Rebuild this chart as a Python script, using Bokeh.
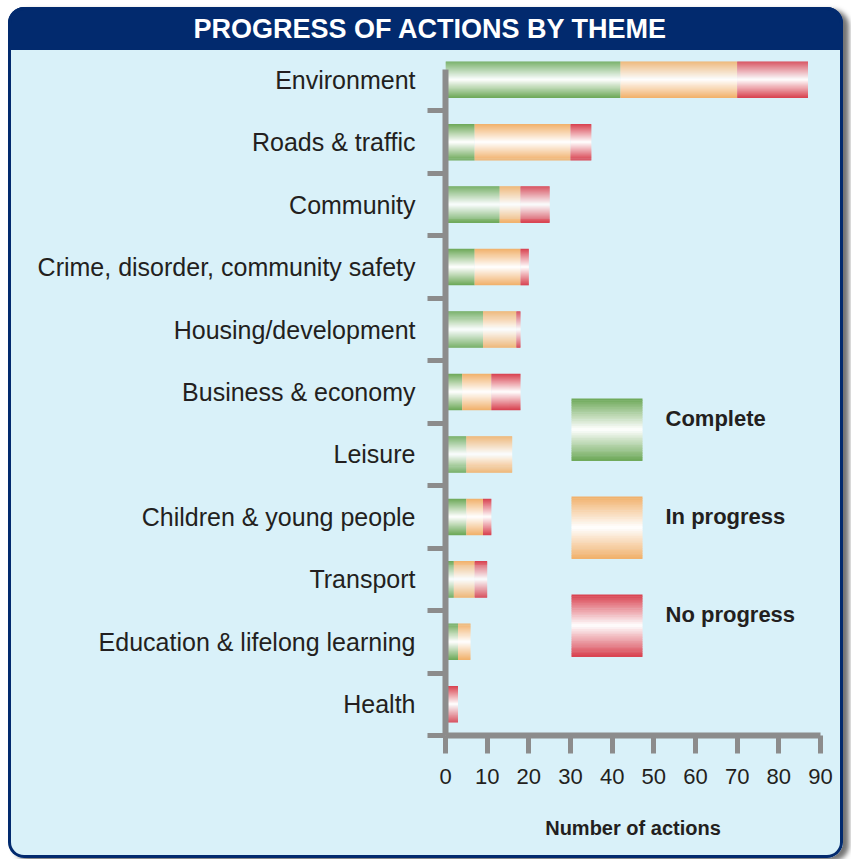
from bokeh.plotting import figure
from bokeh.models import ColumnDataSource, FixedTicker, BoxAnnotation, Label, Range1d
from bokeh.embed import file_html
from bokeh.resources import INLINE

# ---------------- data ----------------
themes = ["Environment", "Roads & traffic", "Community",
          "Crime, disorder, community safety", "Housing/development",
          "Business & economy", "Leisure", "Children & young people",
          "Transport", "Education & lifelong learning", "Health"]
complete    = [42, 7, 13, 7, 9, 4, 5, 5, 2, 3, 0]
in_progress = [28, 23, 5, 11, 8, 7, 11, 4, 5, 3, 0]
no_progress = [17, 5, 7, 2, 1, 7, 0, 2, 3, 0, 3]
series = ["Complete", "In progress", "No progress"]
x_ticks = [0, 10, 20, 30, 40, 50, 60, 70, 80, 90]
title_text = "PROGRESS OF ACTIONS BY THEME"
x_label = "Number of actions"

# ---------------- style ----------------
edge_colors = ["#6ca857", "#f1b06a", "#d8404e"]
NAVY = "#022a6e"
BG = "#d9f1f9"
GRAY = "#8c8c8c"
TXT = "#231f20"
FONT = "Liberation Sans"
W, H = 835, 851          # canvas placed at page (8, 7)
OX, OY = 8, 7
N = 36
BAR_H = 0.58


def hex2rgb(h):
    h = h.lstrip("#")
    return tuple(int(h[i:i + 2], 16) for i in (0, 2, 4))


def mix(edge, d):
    r, g, b = hex2rgb(edge)
    return "#%02x%02x%02x" % tuple(int(round(255 * (1 - d) + c * d)) for c in (r, g, b))


def cbox(left, right, top, bottom, **kw):
    return BoxAnnotation(left=left - OX, right=right - OX, top=top - OY,
                         bottom=bottom - OY,
                         left_units="canvas", right_units="canvas",
                         top_units="canvas", bottom_units="canvas", **kw)


n = len(themes)
centers = [n - 0.5 - i for i in range(n)]

ys, lefts, rights, hs, cols = [], [], [], [], []
stack = [0] * n
for j, vals in enumerate([complete, in_progress, no_progress]):
    for i in range(n):
        left = stack[i]
        right = left + vals[i]
        stack[i] = right
        if vals[i] == 0:
            continue
        for k in range(N):
            t = (k + 0.5) / N
            ys.append(centers[i] + BAR_H / 2 - t * BAR_H)
            lefts.append(left)
            rights.append(right)
            hs.append(BAR_H / N * 1.3)
            cols.append(mix(edge_colors[j], abs(2 * t - 1)))

src = ColumnDataSource(dict(y=ys, left=lefts, right=rights, h=hs, c=cols))

p = figure(width=W, height=H, x_range=Range1d(0, 90), y_range=Range1d(0, n),
           output_backend="svg", toolbar_location=None,
           min_border_left=445 - OX, min_border_right=W - (820 - OX),
           min_border_top=48 - OY, min_border_bottom=H - (735 - OY))
p.border_fill_color = None
p.background_fill_color = None
p.outline_line_color = None
p.grid.visible = False
p.styles = {
    "margin-left": f"{OX}px",
    "margin-top": f"{OY}px",
    "border-radius": "16px",
    "background": f"linear-gradient(to bottom, {NAVY} 0px, {NAVY} 43px, {BG} 43px, {BG} 100%)",
    "box-shadow": f"inset 0 0 0 3px {NAVY}, 6px 3px 5px rgba(0,0,0,0.55)",
}

# title
p.title.text = title_text
p.title.align = "left"
p.title.offset = 193 - 445
p.title.vertical_align = "middle"
p.title.text_color = "white"
p.title.text_font = FONT
p.title.text_font_style = "bold"
p.title.text_font_size = "27px"
p.title.standoff = 8

p.hbar(y="y", left="left", right="right", height="h", fill_color="c",
       line_color=None, source=src)

# legend
leg_top = [398, 496, 594]
leg_h = 62
for j, name in enumerate(series):
    for k in range(N):
        t = (k + 0.5) / N
        top = leg_top[j] + k * leg_h / N
        p.add_layout(cbox(571, 642, top, top + leg_h / N + 0.5,
                          fill_color=mix(edge_colors[j], abs(2 * t - 1)),
                          fill_alpha=1, line_color=None))
    p.add_layout(Label(x=665 - OX, y=leg_top[j] + 20 - OY,
                       x_units="canvas", y_units="canvas",
                       text=name, text_align="left", text_baseline="middle",
                       text_color=TXT, text_font=FONT, text_font_style="bold",
                       text_font_size="22px"))

# y axis
ya = p.yaxis[0]
ya.ticker = FixedTicker(ticks=centers, minor_ticks=[float(v) for v in range(0, n)])
ya.major_label_overrides = {c: t for c, t in zip(centers, themes)}
ya.bounds = (0, 10.67)
ya.axis_line_color = GRAY
ya.axis_line_width = 6
ya.axis_line_cap = "butt"
ya.major_tick_in = 0
ya.major_tick_out = 0
ya.minor_tick_in = 0
ya.minor_tick_out = 18
ya.minor_tick_line_width = 5
ya.minor_tick_line_color = GRAY
ya.major_label_standoff = 12
ya.major_label_text_font = FONT
ya.major_label_text_font_size = "25px"
ya.major_label_text_color = TXT

# x axis
xa = p.xaxis[0]
xa.ticker = FixedTicker(ticks=x_ticks, minor_ticks=[])
xa.axis_line_color = GRAY
xa.axis_line_width = 6
xa.axis_line_cap = "butt"
xa.major_tick_in = 0
xa.major_tick_out = 18
xa.major_tick_line_width = 5
xa.major_tick_line_color = GRAY
xa.minor_tick_out = 0
xa.minor_tick_in = 0
xa.major_label_standoff = 15
xa.major_label_text_font = FONT
xa.major_label_text_font_size = "22px"
xa.major_label_text_color = TXT
xa.axis_label = x_label
xa.axis_label_text_font = FONT
xa.axis_label_text_font_style = "bold"
xa.axis_label_text_font_size = "20px"
xa.axis_label_text_color = TXT
xa.axis_label_standoff = 30

open("out.html", "w").write(file_html(p, INLINE))
